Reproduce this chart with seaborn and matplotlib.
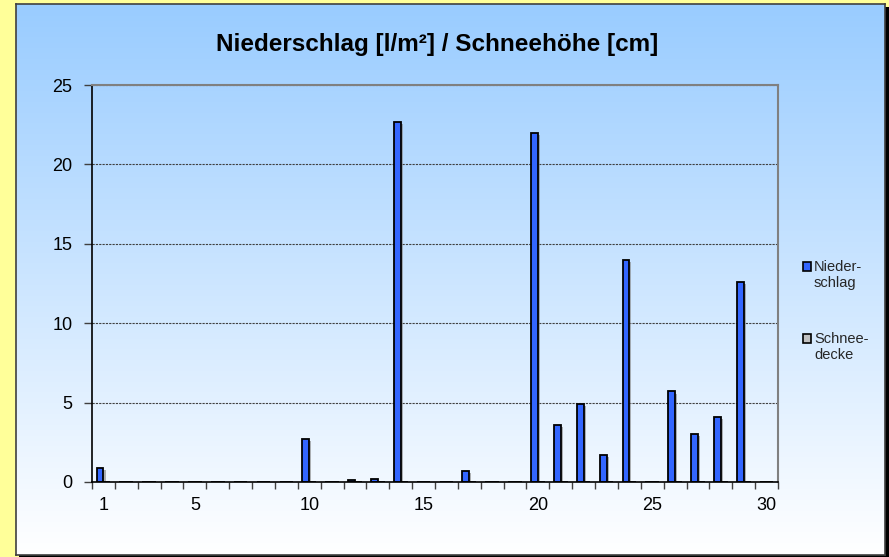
import numpy as np
import pandas as pd
import matplotlib
matplotlib.use("agg")
import matplotlib.pyplot as plt
import matplotlib.patheffects as pe
from matplotlib.patches import Patch, Rectangle
from matplotlib.legend_handler import HandlerPatch
import seaborn as sns

# values
days = list(range(1, 31))
niederschlag = [0.9, 0, 0, 0, 0, 0, 0, 0, 0, 2.7,
                0, 0.1, 0.2, 22.7, 0, 0, 0.7, 0, 0, 22.0,
                3.6, 4.9, 1.7, 14.0, 0, 5.7, 3.0, 4.1, 12.6, 0]
schneedecke = [0] * 30
series_names = ["Nieder-\nschlag", "Schnee-\ndecke"]
series_colors = ["#3366FF", "#C0C0C0"]
x_labels = ["1", "5", "10", "15", "20", "25", "30"]
y_ticks = [0, 5, 10, 15, 20, 25]
title = "Niederschlag [l/m²] / Schneehöhe [cm]"

sns.set_style("white")
plt.rcParams["font.family"] = ["Liberation Sans", "DejaVu Sans"]

df = pd.DataFrame({
    "Tag": [str(d) for d in days] * 2,
    "Wert": niederschlag + schneedecke,
    "Serie": [series_names[0]] * 30 + [series_names[1]] * 30,
})

W, H = 889, 557
fig = plt.figure(figsize=(W / 100, H / 100), dpi=100, facecolor="#FFFF99")

# shadow + gradient frame of the chart
fig.patches.append(Rectangle((19 / W, 0), 870 / W, 550 / H, transform=fig.transFigure,
                             facecolor="black", edgecolor="none", zorder=0))
bg = fig.add_axes([16 / W, 2 / H, 869 / W, 551 / H], zorder=0.5)
grad = np.linspace(0, 1, 256)[:, None]
top = np.array([0.60, 0.80, 1.0])
bottom = np.array([1.0, 1.0, 1.0])
img = (1 - grad)[..., None] * top + grad[..., None] * bottom
bg.imshow(np.repeat(img, 2, axis=1), aspect="auto", extent=[0, 1, 0, 1])
bg.set_xlim(0, 1)
bg.set_ylim(0, 1)
bg.set_xticks([])
bg.set_yticks([])
for s in bg.spines.values():
    s.set_color("#404040")
    s.set_linewidth(1.2)

ax = fig.add_axes([92 / W, 75 / H, 686 / W, 397 / H], zorder=1)
ax.set_facecolor("none")

sns.barplot(data=df, x="Tag", y="Wert", hue="Serie", order=[str(d) for d in days],
            hue_order=series_names, palette=series_colors, width=0.6, saturation=1,
            edgecolor="black", linewidth=1.3, errorbar=None, legend=False, ax=ax)

for p in ax.patches:
    p.set_path_effects([pe.SimplePatchShadow(offset=(1.5, -1.5), shadow_rgbFace="gray", alpha=0.6),
                        pe.Normal()])

ax.set_xlim(-0.5, 29.5)
ax.set_ylim(0, 25)
ax.set_yticks(y_ticks)
ax.set_yticklabels([str(v) for v in y_ticks])
ax.set_xticks([days.index(int(l)) for l in x_labels])
ax.set_xticklabels(x_labels)
ax.set_xticks(np.arange(-0.5, 30, 1), minor=True)
ax.tick_params(axis="x", which="major", length=0, pad=11, labelsize=13, colors="black")
ax.tick_params(axis="x", which="minor", length=5, width=1, direction="out", color="#404040")
ax.tick_params(axis="y", which="major", length=6, width=1, direction="out", pad=8,
               labelsize=13, color="#404040", labelcolor="black")
ax.xaxis.set_ticks_position("bottom")
ax.yaxis.set_ticks_position("left")
ax.set_xlabel("")
ax.set_ylabel("")

ax.set_axisbelow(True)
ax.yaxis.grid(True, linestyle=(0, (2, 1)), color="#404040", linewidth=0.8)
ax.xaxis.grid(False)
for side in ["top", "right"]:
    ax.spines[side].set_color("#808080")
    ax.spines[side].set_linewidth(1.5)
for side in ["left", "bottom"]:
    ax.spines[side].set_color("black")
    ax.spines[side].set_linewidth(1.2)

fig.text(437 / W, 1 - 44 / H, title, ha="center", va="center",
         fontsize=17.5, fontweight="bold", color="black")


def top_square(legend, orig_handle, xdescent, ydescent, width, height, fontsize):
    # put the legend square next to the first line of the two-line label
    return Rectangle((-xdescent, -ydescent + 0.6 * fontsize), width, height)


handles = [Patch(facecolor=c, edgecolor="black", linewidth=1.2) for c in series_colors]
leg = fig.legend(handles, series_names, loc="center left", bbox_to_anchor=(790 / W, 1 - 311 / H),
                 frameon=False, fontsize=10.5, handlelength=0.55, handleheight=0.55,
                 handletextpad=0.2, labelspacing=2.9,
                 handler_map={Patch: HandlerPatch(patch_func=top_square)})
for t in leg.get_texts():
    t.set_multialignment("left")

fig.savefig("out.png", dpi=100, facecolor=fig.get_facecolor())
